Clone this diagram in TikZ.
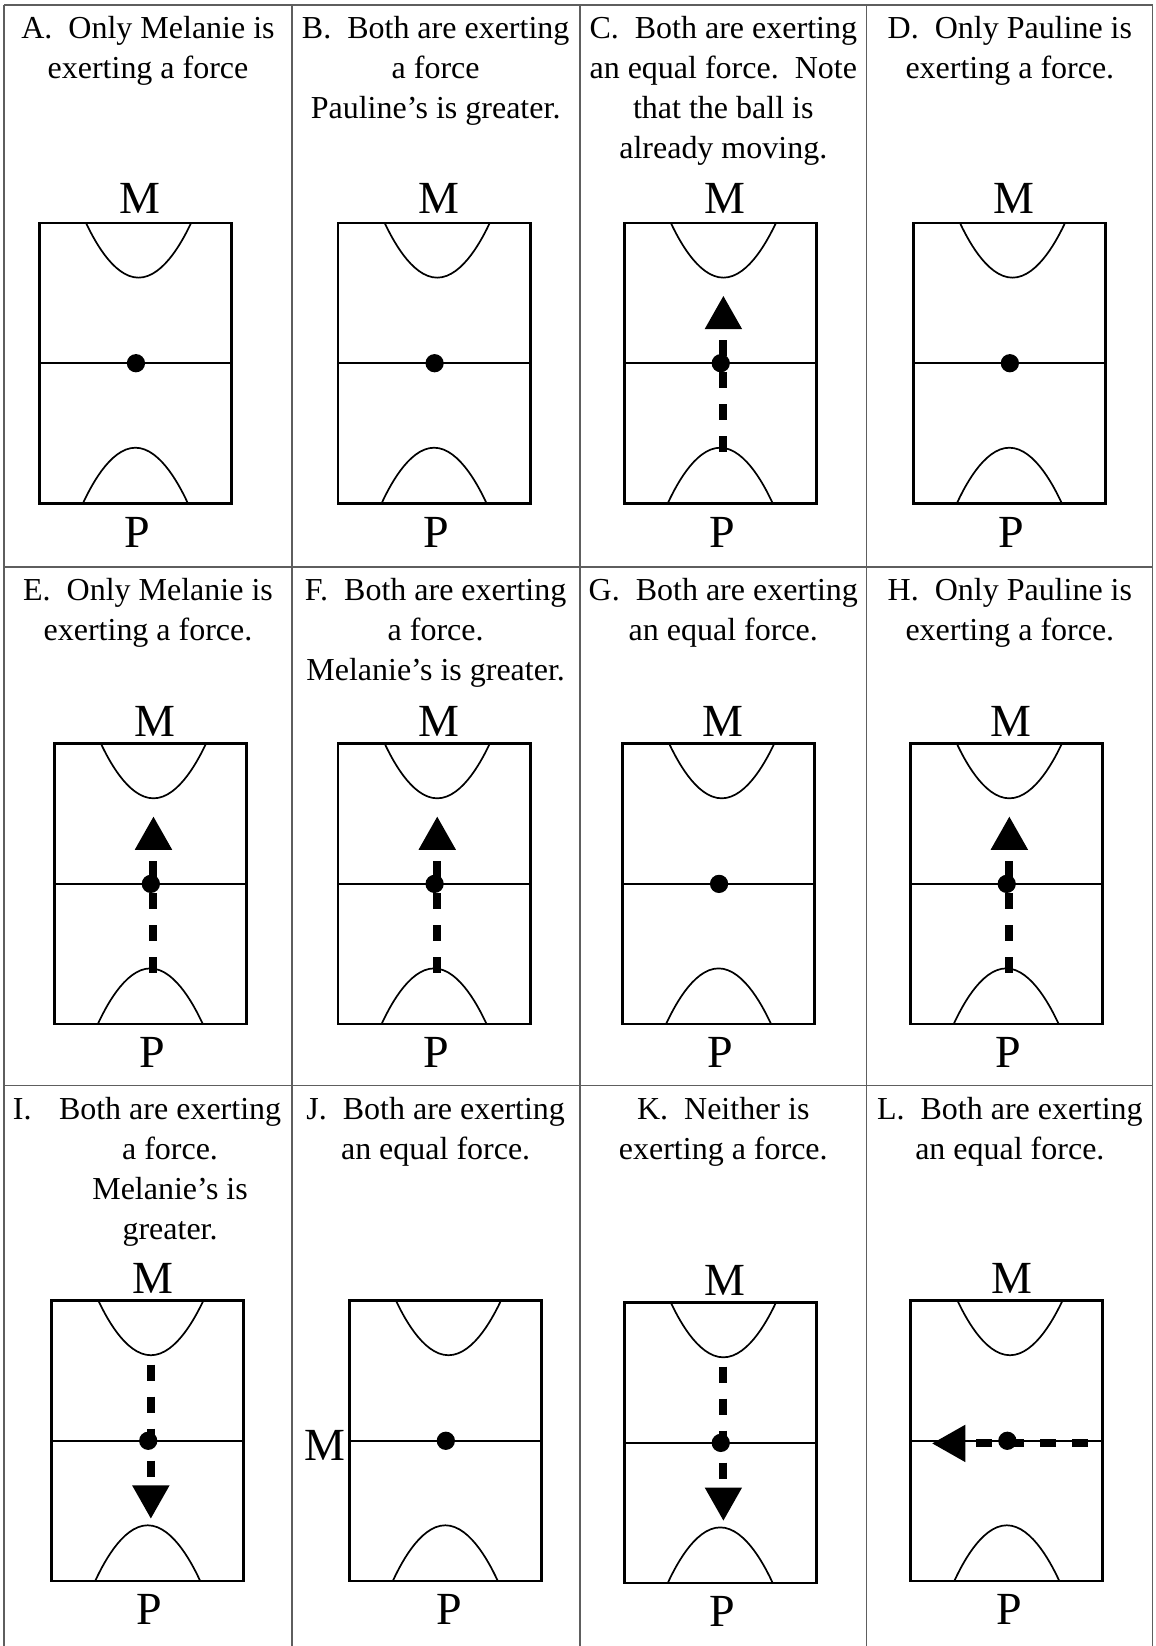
\documentclass[tikz,border=0pt]{standalone}
\usepackage{fontspec}
\setmainfont{Liberation Serif}
\usetikzlibrary{positioning,arrows.meta}
\definecolor{tablegray}{HTML}{5E5E5E}

\tikzset{
  table rule/.style={draw=tablegray,line width=0.7pt},
  courtline/.style={line width=1.4pt},
  courtmark/.style={line width=0.85pt},
  caption/.style={font=\fontsize{16}{20}\selectfont,align=center,inner sep=0pt,anchor=base},
  player/.style={font=\fontsize{23}{27}\selectfont,inner sep=0pt},
  force/.style={line width=4pt,dash pattern=on 8pt off 8pt,-{Triangle[width=17.5pt,length=16.8pt]}},
  court/.pic={
    \draw[courtline] (0,0) rectangle (183,267);
    \draw[courtmark] (0,133.5) coordinate (-w) -- (183,133.5);
    \draw[courtmark] (44.5,0) parabola bend (94.5,52) (144.5,0);
    \draw[courtmark] (41.5,267) parabola bend (91.5,214) (141.5,267);
    \fill (92,133.5) coordinate (-ball) circle[radius=8.7];
    \coordinate (-n) at (91.5,0); \coordinate (-s) at (91.5,267);
    \coordinate (-fromP) at (94.5,218); \coordinate (-toM) at (94.5,69);
    \coordinate (-fromM) at (94.5,52); \coordinate (-toP) at (94.5,208);
    \coordinate (-right) at (168.5,136); \coordinate (-left) at (20,136);
  }
}

\begin{document}
\begin{tikzpicture}[x=0.525pt,y=-0.525pt]
\useasboundingbox (0,0) rectangle (1101,1568);
% table rules
\draw[table rule] (3.8,4.8)--(1098,4.8); \draw[table rule] (3.8,540)--(1098,540); \draw[table rule] (3.8,1034)--(1098,1034);
\draw[table rule] (3.8,4.8)--(3.8,1568); \draw[table rule] (278,4.8)--(278,1568); \draw[table rule] (552.4,4.8)--(552.4,1568); \draw[table rule] (825.7,4.8)--(825.7,1568); \draw[table rule] (1098,4.8)--(1098,1568);

% first row (caption base = last line)
\node[caption] (capA) at (141,74.9) {A.\ \ Only Melanie is\\exerting a force};
\node[caption] (capB) at (415,113) {B.\ \ Both are exerting\\a force\\Pauline’s is greater.};
\node[caption] (capC) at (689,151.1) {C.\ \ Both are exerting\\an equal force.\ \ Note\\that the ball is\\already moving.};
\node[caption] (capD) at (962,74.9) {D.\ \ Only Pauline is\\exerting a force.};
\pic (cA) at (37.5,212.5) {court}; \pic (cB) at (322,212.5) {court}; \pic (cC) at (594.6,212.5) {court}; \pic (cD) at (870,212.5) {court};
\node[player,above=4.5pt of cA-n,xshift=2.4pt] (mA) {M}; \node[player,below=6.6pt of cA-s,xshift=1pt] (pA) {P};
\node[player,above=4.5pt of cB-n,xshift=2.4pt] (mB) {M}; \node[player,below=6.6pt of cB-s,xshift=1pt] (pB) {P};
\node[player,above=4.5pt of cC-n,xshift=2.4pt] (mC) {M}; \node[player,below=6.6pt of cC-s,xshift=1pt] (pC) {P};
\node[player,above=4.5pt of cD-n,xshift=2.4pt] (mD) {M}; \node[player,below=6.6pt of cD-s,xshift=1pt] (pD) {P};
\draw[force] (cC-fromP) -- (cC-toM);

% second row
\node[caption] (capE) at (141,610.1) {E.\ \ Only Melanie is\\exerting a force.};
\node[caption] (capF) at (415,648.2) {F.\ \ Both are exerting\\a force.\\Melanie’s is greater.};
\node[caption] (capG) at (689,610.1) {G.\ \ Both are exerting\\an equal force.};
\node[caption] (capH) at (962,610.1) {H.\ \ Only Pauline is\\exerting a force.};
\pic (cE) at (51.7,708.5) {court}; \pic (cF) at (322,708.5) {court}; \pic (cG) at (593,708.5) {court}; \pic (cH) at (867,708.5) {court};
\node[player,above=3.5pt of cE-n,xshift=2.4pt] (mE) {M}; \node[player,below=6.6pt of cE-s,xshift=1pt] (pE) {P};
\node[player,above=3.5pt of cF-n,xshift=2.4pt] (mF) {M}; \node[player,below=6.6pt of cF-s,xshift=1pt] (pF) {P};
\node[player,above=3.5pt of cG-n,xshift=2.4pt] (mG) {M}; \node[player,below=6.6pt of cG-s,xshift=1pt] (pG) {P};
\node[player,above=3.5pt of cH-n,xshift=2.4pt] (mH) {M}; \node[player,below=6.6pt of cH-s,xshift=1pt] (pH) {P};
\draw[force] (cE-fromP) -- (cE-toM); \draw[force] (cF-fromP) -- (cF-toM); \draw[force] (cH-fromP) -- (cH-toM);

% third row
\node[caption,anchor=base west] (capInum) at (12,1066) {I.};
\node[caption] (capI) at (162,1180.3) {Both are exerting\\a force.\\Melanie’s is\\greater.};
\node[caption] (capJ) at (415,1104.1) {J.\ \ Both are exerting\\an equal force.};
\node[caption] (capK) at (689,1104.1) {K.\ \ Neither is\\exerting a force.};
\node[caption] (capL) at (962,1104.1) {L.\ \ Both are exerting\\an equal force.};
\pic (cI) at (49.2,1239) {court}; \pic (cJ) at (332.7,1239) {court}; \pic (cK) at (594.6,1241) {court}; \pic (cL) at (867.6,1239) {court};
\node[player,above=3.5pt of cI-n,xshift=2.4pt] (mI) {M}; \node[player,below=6.6pt of cI-s,xshift=1pt] (pI) {P};
\node[player,anchor=base east] (mJ) at ([xshift=-1.8pt,yshift=-10pt]cJ-w) {M}; \node[player,below=6.6pt of cJ-s,xshift=1.8pt] (pJ) {P};
\node[player,above=3.5pt of cK-n,xshift=2.4pt] (mK) {M}; \node[player,below=6.6pt of cK-s,xshift=1pt] (pK) {P};
\node[player,above=3.5pt of cL-n,xshift=2.4pt] (mL) {M}; \node[player,below=6.6pt of cL-s,xshift=1pt] (pL) {P};
\draw[force,dash phase=11.3pt] (cI-fromM) -- (cI-toP); \draw[force,dash phase=11.3pt] (cK-fromM) -- (cK-toP);
\draw[force] (cL-right) -- (cL-left);
\end{tikzpicture}
\end{document}
